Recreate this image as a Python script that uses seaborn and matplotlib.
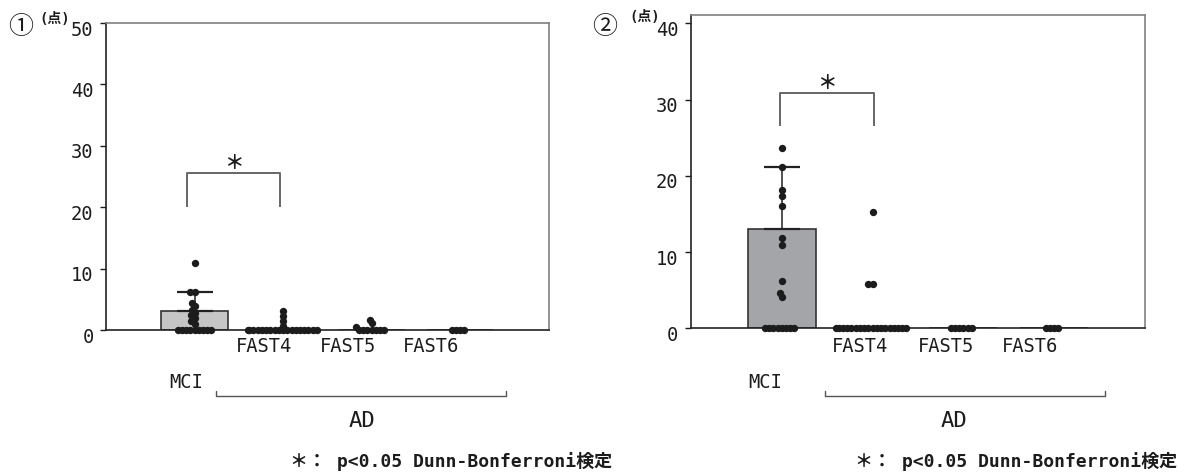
import numpy as np
import pandas as pd
import matplotlib
matplotlib.use("Agg")
import matplotlib.pyplot as plt
import matplotlib.transforms as mtransforms
from matplotlib.lines import Line2D
import seaborn as sns

# ---------------- data ----------------
categories = ["MCI", "FAST4", "FAST5", "FAST6"]

# panel 1
p1_mean = [3.1, 0.0, 0.0, 0.0]
p1_sd = [3.1, 0.0, 0.0, 0.0]
p1_mci = [10.9, 6.2, 6.2, 4.4, 3.9, 3.3, 2.8, 2.4, 2.0, 1.4, 1.0] + [0] * 9
p1_fast4 = [3.1, 2.2, 1.4, 0.7] + [0] * 18
p1_fast5 = [1.7, 1.1, 0.5] + [0] * 7
p1_fast6 = [0, 0, 0, 0]
p1_yticks = [0, 10, 20, 30, 40, 50]

# panel 2
p2_mean = [13.0, 0.0, 0.0, 0.0]
p2_sd = [8.2, 0.0, 0.0, 0.0]
p2_mci = [23.7, 21.2, 18.2, 17.3, 16.0, 11.8, 10.9, 6.2, 4.6, 4.1] + [0] * 8
p2_fast4 = [15.2, 5.8, 5.8] + [0] * 18
p2_fast5 = [0] * 6
p2_fast6 = [0] * 4
p2_yticks = [0, 10, 20, 30, 40]

panel_labels = ["①", "②"]
unit_label = "(点)"
group_label = "AD"
sig_mark = "＊"
footnote = "＊： p<0.05 Dunn-Bonferroni検定"

# ---------------- style ----------------
sns.set_style("white")
MONO = ["DejaVu Sans Mono", "Noto Sans CJK JP"]
CJK = ["Noto Sans CJK JP", "DejaVu Sans"]
plt.rcParams["font.family"] = MONO
INK = "#1c1c1c"

W, H = 1189, 473
fig = plt.figure(figsize=(W / 100, H / 100), dpi=100)


def px(x, y):
    return x / W, 1 - y / H


ax1 = fig.add_axes([106 / W, 1 - 330 / H, 442.7 / W, 307 / H])
ax2 = fig.add_axes([691 / W, 1 - 328.3 / H, 454 / W, 313.3 / H])

LAYOUT_SIZE = 2.9
DISPLAY_SIZE = 5.3


def draw_panel(ax, means, sds, groups, bar_color, ylim, yticks, bracket):
    sns.barplot(x=categories, y=means, order=categories, color=bar_color,
                saturation=1, width=0.75, edgecolor="#333333", linewidth=1.2,
                errorbar=None, ax=ax, zorder=1)
    for i, (m, s) in enumerate(zip(means, sds)):
        if s > 0:
            _, caps, _ = ax.errorbar(i, m, yerr=[[0], [s]], fmt="none",
                                     ecolor="#222222", elinewidth=1.1,
                                     capsize=13.3, capthick=1.6, zorder=2)
            for c in caps:
                c.set_color("#8a8a8a")
    df = pd.DataFrame({
        "group": np.concatenate([[c] * len(v) for c, v in zip(categories, groups)]),
        "score": np.concatenate([np.asarray(v, float) for v in groups]),
    })
    sns.swarmplot(data=df, x="group", y="score", order=categories,
                  color=INK, size=LAYOUT_SIZE, linewidth=0,
                  warn_thresh=1, ax=ax, zorder=3)
    ax.set_xlim(-1, 4)
    ax.set_ylim(*ylim)
    ax.set_yticks(yticks)
    ax.set_xticks([])
    ax.set_xlabel("")
    ax.set_ylabel("")
    ax.tick_params(axis="y", direction="out", length=4, width=1, pad=5,
                   labelsize=13.5, colors=INK, left=True)
    for side in ["left", "bottom"]:
        ax.spines[side].set_color("#222222")
        ax.spines[side].set_linewidth(1.2)
    for side in ["top", "right"]:
        ax.spines[side].set_color("#808080")
        ax.spines[side].set_linewidth(1.2)
    off = mtransforms.ScaledTranslation(0, -5 / 100, fig.dpi_scale_trans)
    for lab in ax.get_yticklabels():
        lab.set_transform(lab.get_transform() + off)
    # significance bracket
    x0, x1, ylo, yhi = bracket
    ax.plot([x0, x0, x1, x1], [ylo, yhi, yhi, ylo], color="#666666", lw=1.4,
            zorder=4, solid_capstyle="butt")
    ax.annotate(sig_mark, ((x0 + x1) / 2, yhi), xytext=(0, 7),
                textcoords="offset points", ha="center", va="center",
                fontsize=14, color=INK, family=CJK, weight="bold")


draw_panel(ax1, p1_mean, p1_sd, [p1_mci, p1_fast4, p1_fast5, p1_fast6],
           "#c6c6c6", (0, 50), p1_yticks, (-0.09, 0.97, 20.1, 25.5))
draw_panel(ax2, p2_mean, p2_sd, [p2_mci, p2_fast4, p2_fast5, p2_fast6],
           "#a4a5a9", (0, 41.1), p2_yticks, (-0.02, 1.02, 26.5, 30.9))

# swarm positions are computed at the small layout size, then markers enlarged
fig.canvas.draw()
for ax in (ax1, ax2):
    for coll in ax.collections:
        if "draw" in coll.__dict__:
            del coll.draw
            coll.set_sizes([DISPLAY_SIZE ** 2])
            coll.set_clip_on(False)

# annotations below the axes
txt = dict(fontsize=13.5, color=INK, ha="center", va="center")
layout = [
    # (panel_label_x, unit_x, unit_y, mci_x, fast_xs, bracket_x0, bracket_x1, ad_x, foot_x)
    (21, 55, 19, 186, [264, 348, 431], 216, 506, 362, 290),
    (605, 645, 17, 765, [860, 946, 1030], 825, 1105, 954, 855),
]
for (plx, ux, uy, mx, fxs, bx0, bx1, adx, fx), pl in zip(layout, panel_labels):
    fig.text(*px(plx, 27), pl, fontsize=18, ha="center", va="center",
             color=INK, family=CJK)
    fig.text(*px(ux, uy), unit_label, fontsize=10, ha="center", va="center",
             color=INK, weight="bold")
    fig.text(*px(mx, 383), categories[0], **txt)
    for fxx, name in zip(fxs, categories[1:]):
        fig.text(*px(fxx, 346), name, **txt)
    xa, ya = px(bx0, 396)
    xb, _ = px(bx1, 396)
    _, yt = px(0, 391)
    fig.add_artist(Line2D([xa, xa, xb, xb], [yt, ya, ya, yt], color="#555555",
                          lw=1.0, transform=fig.transFigure))
    fig.text(*px(adx, 421), group_label, **{**txt, "fontsize": 16})
    fig.text(*px(fx, 461), footnote, fontsize=13, ha="left", va="center",
             color=INK, weight="bold")

fig.savefig("out.png", dpi=100)
